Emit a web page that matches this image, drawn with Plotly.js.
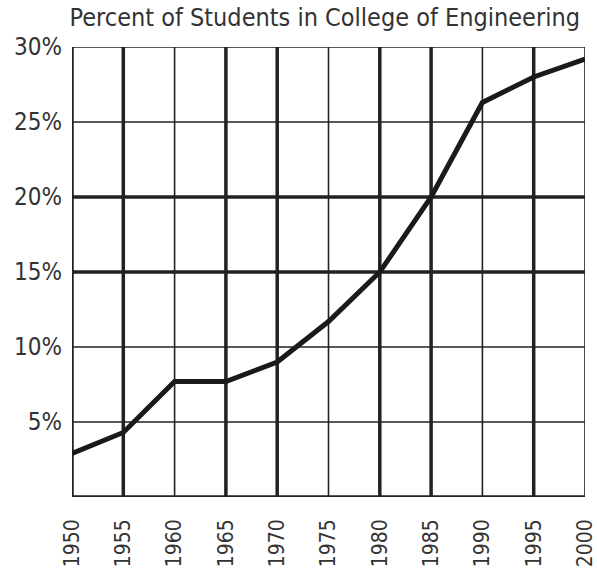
<!DOCTYPE html>
<html><head><meta charset="utf-8">
<script src="https://cdn.plot.ly/plotly-3.0.1.min.js"></script>
<style>html,body{margin:0;padding:0;background:#fff}#c{width:597px;height:571px}</style>
</head><body><div id="c"></div>
<script>
const years = [1950,1955,1960,1965,1970,1975,1980,1985,1990,1995,2000];
const percent = [2.9,4.3,7.7,7.7,9.0,11.7,15.0,20.0,26.3,28.0,29.2];
const yTicks = [5,10,15,20,25,30];
const yTickText = ['5%','10%','15%','20%','25%','30%'];
const thickX = [1950,1955,1965,1970,1980,1985,1995];
const thickY = [0,15,20];
const FONT = '"DejaVu Sans Condensed", "Liberation Sans Narrow", Arial, sans-serif';

const shapes = [];
years.forEach(v => {
  const thick = thickX.includes(v);
  shapes.push({type:'line', xref:'x', yref:'paper', x0:v, x1:v, y0:0, y1:1, layer:'below',
    line:{color:'#222', width: thick ? 3.5 : 1.6}});
});
[0].concat(yTicks).forEach(v => {
  const thick = thickY.includes(v);
  shapes.push({type:'line', xref:'paper', yref:'y', x0:0, x1:1, y0:v, y1:v, layer:'below',
    line:{color:'#222', width: thick ? 3.5 : 1.6}});
});

Plotly.newPlot('c', [{
  x: years, y: percent, type:'scatter', mode:'lines',
  line:{color:'#1a1a1a', width:5}, cliponaxis:false, hoverinfo:'skip'
}], {
  width:597, height:571,
  margin:{l:72, r:12, t:47, b:74},
  paper_bgcolor:'#fff', plot_bgcolor:'#fff',
  showlegend:false,
  title:{text:'Percent of Students in College of Engineering', x:0.544, xanchor:'center', y:0.969, yanchor:'middle',
    font:{family:FONT, size:25, color:'#333'}},
  xaxis:{range:[1950,2000], tickvals:years, ticktext:years.map(String), tickangle:-90,
    showgrid:false, zeroline:false, showline:false, ticks:'', ticklabelstandoff:17,
    ticklabeloverflow:'allow',
    tickfont:{family:FONT, size:21, color:'#333'}},
  yaxis:{range:[0,30], tickvals:yTicks, ticktext:yTickText,
    showgrid:false, zeroline:false, showline:false, ticks:'', ticklabelstandoff:9,
    tickfont:{family:FONT, size:24, color:'#333'}},
  shapes: shapes
}, {staticPlot:true});
</script></body></html>
